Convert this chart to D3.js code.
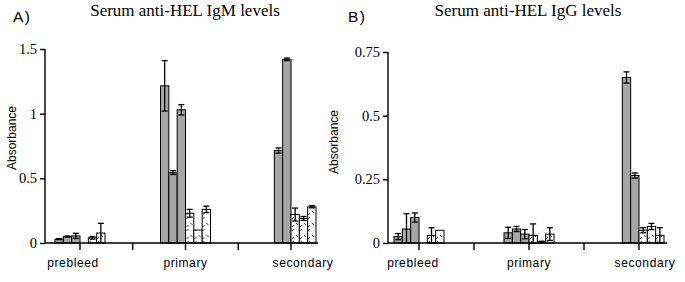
<!DOCTYPE html>
<html>
<head>
<meta charset="utf-8">
<script src="https://cdn.jsdelivr.net/npm/d3@7"></script>
<style>
  body { margin: 0; background: #fff; }
  svg { display: block; }
</style>
</head>
<body>
<svg id="chart" width="685" height="282"></svg>
<script>
const categories = ["prebleed", "primary", "secondary"];

// Serum anti-HEL IgM (panel A): 6 bars per group
const igmMean = [
    [0.03, 0.05, 0.055, 0, 0.04, 0.077],
    [1.215, 0.545, 1.03, 0.23, 0.10, 0.26],
    [0, 0.715, 1.42, 0.22, 0.19, 0.28],
];
const igmErr = [
    [0.004, 0.004, 0.02, 0, 0.01, 0.075],
    [0.195, 0.015, 0.04, 0.03, 0, 0.025],
    [0, 0.02, 0.01, 0.05, 0.015, 0.008],
];
const igmTicks = [0, 0.5, 1, 1.5];

// Serum anti-HEL IgG (panel B)
const iggMean = [
    [0.025, 0.055, 0.10, 0, 0.03, 0.05],
    [0.04, 0.055, 0.035, 0.03, 0.005, 0.035],
    [0, 0.65, 0.265, 0.05, 0.065, 0.03],
];
const iggErr = [
    [0.012, 0.06, 0.018, 0, 0.03, 0],
    [0.022, 0.01, 0.018, 0.045, 0.002, 0.025],
    [0, 0.022, 0.01, 0.01, 0.012, 0.03],
];
const iggTicks = [0, 0.25, 0.5, 0.75];

const SANS = "'Liberation Sans', Arial, Helvetica, sans-serif";
const SERIF = "'Liberation Serif', 'Times New Roman', serif";

const svg = d3.select("#chart");

// patterns: gray for first 3 series, scribbled white for last 3
const defs = svg.append("defs");
const hatch = defs.append("pattern")
    .attr("id", "hatch")
    .attr("patternUnits", "userSpaceOnUse")
    .attr("width", 8).attr("height", 12);
hatch.append("rect").attr("width", 8).attr("height", 12).attr("fill", "#fff");
hatch.append("path")
    .attr("d", "M1,3 L3,1 M5,7 L7,9 M1,11 L3,9")
    .attr("stroke", "#222").attr("stroke-width", 0.9);

const grayFill = "#a6a6a6";
const fills = [grayFill, grayFill, grayFill, "url(#hatch)", "url(#hatch)", "url(#hatch)"];

function panel(opts) {
    const g = svg.append("g");
    const y = d3.scaleLinear().domain([0, opts.ymax]).range([243, opts.ytop]);
    const x = d3.scalePoint().domain(categories).range(opts.centers);
    const step = x.step();
    const inner = d3.scaleBand().domain(d3.range(6)).range([-25, 25]);
    const bw = inner.bandwidth();

    // title and panel letter
    g.append("text")
        .attr("x", opts.letterX).attr("y", 22)
        .attr("font-family", SANS)
        .attr("font-size", 15.5)
        .attr("letter-spacing", 1.5)
        .text(opts.letter);
    g.append("text")
        .attr("x", opts.titleX).attr("y", 16)
        .attr("text-anchor", "middle")
        .attr("font-family", SERIF)
        .attr("font-size", 17)
        .text(opts.title);

    // y axis title
    g.append("text")
        .attr("transform", `translate(${opts.ylabX},${opts.ylabY}) rotate(-90)`)
        .attr("text-anchor", "middle")
        .attr("font-family", SANS)
        .attr("font-size", 12)
        .text("Absorbance");

    // bars
    categories.forEach((c, i) => {
        const grp = g.append("g").attr("transform", `translate(${x(c)},0)`);
        grp.selectAll("rect")
            .data(opts.mean[i])
            .join("rect")
            .attr("x", (d, j) => inner(j))
            .attr("width", bw)
            .attr("y", d => y(d))
            .attr("height", d => y(0) - y(d))
            .attr("fill", (d, j) => fills[j])
            .attr("stroke", "#000")
            .attr("stroke-width", d => d > 0 ? 1 : 0);

        // error bars (mean +/- err)
        const eb = grp.selectAll("g.err")
            .data(opts.mean[i].map((m, j) => ({ m, e: opts.err[i][j], j })).filter(d => d.m > 0 && d.e > 0))
            .join("g").attr("class", "err")
            .attr("stroke", "#000").attr("stroke-width", 1.3);
        const cx = d => inner(d.j) + bw / 2;
        eb.append("line")
            .attr("x1", cx).attr("x2", cx)
            .attr("y1", d => y(Math.max(0, d.m - d.e))).attr("y2", d => y(d.m + d.e));
        [1, -1].forEach(s => {
            eb.append("line")
                .attr("x1", d => cx(d) - 3).attr("x2", d => cx(d) + 3)
                .attr("y1", d => y(Math.max(0, d.m + s * d.e)))
                .attr("y2", d => y(Math.max(0, d.m + s * d.e)));
        });
    });

    // y axis
    const yAxis = g.append("g")
        .attr("transform", `translate(${opts.axisX},0)`)
        .call(d3.axisLeft(y).tickValues(opts.ticks).tickSize(5).tickPadding(3).tickFormat(d3.format("")));
    yAxis.select(".domain").attr("d", `M0,${y(0)}V${y(opts.ymax)}`).attr("stroke-width", 1.4);
    yAxis.selectAll(".tick line").attr("stroke-width", 1.4);
    yAxis.selectAll("text")
        .attr("font-family", SERIF)
        .attr("font-size", 14.5)
        .attr("fill", "#000");

    // x axis: baseline with ticks at group centres and between groups
    const tickPos = [];
    categories.forEach((c, i) => {
        tickPos.push(x(c));
        if (i < categories.length - 1) tickPos.push(x(c) + step / 2);
    });
    g.append("line")
        .attr("x1", opts.axisX).attr("x2", opts.axisEnd)
        .attr("y1", y(0)).attr("y2", y(0))
        .attr("stroke", "#000").attr("stroke-width", 1.5);
    g.selectAll("line.xt")
        .data(tickPos)
        .join("line").attr("class", "xt")
        .attr("x1", d => d).attr("x2", d => d)
        .attr("y1", y(0)).attr("y2", y(0) + 7)
        .attr("stroke", "#000").attr("stroke-width", 1.4);
    g.selectAll("text.xl")
        .data(categories)
        .join("text").attr("class", "xl")
        .attr("x", (d, i) => x(d) + opts.labelShift[i])
        .attr("y", 267)
        .attr("text-anchor", "middle")
        .attr("font-family", SANS)
        .attr("font-size", 12)
        .attr("letter-spacing", 0.6)
        .text(d => d);
}

panel({
    letter: "A)", letterX: 13, title: "Serum anti-HEL IgM levels", titleX: 185,
    ylabX: 16, ylabY: 138,
    mean: igmMean, err: igmErr, ymax: 1.5, ytop: 49, ticks: igmTicks,
    centers: [80, 291], axisX: 45, axisEnd: 318, labelShift: [-7, 0, 12]
});
panel({
    letter: "B)", letterX: 348, title: "Serum anti-HEL IgG levels", titleX: 528,
    ylabX: 338, ylabY: 142,
    mean: iggMean, err: iggErr, ymax: 0.75, ytop: 52, ticks: iggTicks,
    centers: [419, 639], axisX: 388, axisEnd: 667, labelShift: [-6, 0, 6]
});
</script>
</body>
</html>
